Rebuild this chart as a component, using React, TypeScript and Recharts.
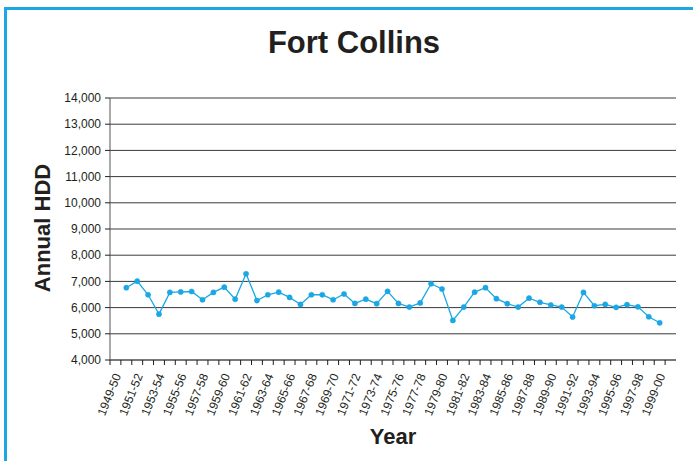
import { CartesianGrid, Line, LineChart, XAxis, YAxis } from "recharts";

const seasons = [
  "1949-50", "1950-51", "1951-52", "1952-53", "1953-54", "1954-55", "1955-56",
  "1956-57", "1957-58", "1958-59", "1959-60", "1960-61", "1961-62", "1962-63",
  "1963-64", "1964-65", "1965-66", "1966-67", "1967-68", "1968-69", "1969-70",
  "1970-71", "1971-72", "1972-73", "1973-74", "1974-75", "1975-76", "1976-77",
  "1977-78", "1978-79", "1979-80", "1980-81", "1981-82", "1982-83", "1983-84",
  "1984-85", "1985-86", "1986-87", "1987-88", "1988-89", "1989-90", "1990-91",
  "1991-92", "1992-93", "1993-94", "1994-95", "1995-96", "1996-97", "1997-98",
  "1998-99", "1999-00", "2000-01",
];

const annualHdd: (number | null)[] = [
  null,
  6760, 7010, 6490, 5750, 6580, 6600, 6615, 6300, 6580, 6780,
  6320, 7290, 6270, 6490, 6590, 6390, 6120, 6490, 6490, 6300,
  6520, 6160, 6320, 6150, 6620, 6160, 6020, 6180, 6910, 6710,
  5510, 6020, 6590, 6760, 6340, 6150, 6020, 6360, 6200, 6100,
  6020, 5640, 6580, 6070, 6120, 6010, 6110, 6030, 5650, 5420,
  null,
];

const yTicks = [4000, 5000, 6000, 7000, 8000, 9000, 10000, 11000, 12000, 13000, 14000];

const data = seasons.map((s, i) => ({ season: s, hdd: annualHdd[i] }));

const W = 693;
const H = 461;
const PLOT_LEFT = 110;
const PLOT_RIGHT = 676;
const PLOT_TOP = 98;
const PLOT_BOTTOM = 360;
const BAND = (PLOT_RIGHT - PLOT_LEFT) / seasons.length;
const FONT = "'Liberation Sans', Arial, sans-serif";
const INK = "#231F20";
const BLUE = "#1AA7E4";

function SeasonTick(props: any) {
  const { x, y, payload, index } = props;
  const left = x - BAND / 2;
  return (
    <g>
      <line x1={left} x2={left} y1={PLOT_BOTTOM} y2={PLOT_BOTTOM + 5} stroke={INK} />
      {index % 2 === 0 && (
        <text
          x={0}
          y={0}
          transform={`translate(${x + 2},${y + 12}) rotate(-68)`}
          textAnchor="end"
          dy="0.35em"
          fontSize={12}
          fontFamily={FONT}
          fill={INK}
        >
          {payload.value}
        </text>
      )}
    </g>
  );
}

export default function App() {
  return (
    <div
      style={{
        position: "absolute",
        left: 0,
        top: 0,
        width: W,
        height: H,
        background: "#fff",
        fontFamily: FONT,
        overflow: "hidden",
      }}
    >
      <div
        style={{
          position: "absolute",
          left: 4,
          top: 7,
          width: W,
          height: H,
          borderTop: `3px solid ${BLUE}`,
          borderLeft: `3px solid ${BLUE}`,
        }}
      />
      <div
        style={{
          position: "absolute",
          left: 0,
          width: 708,
          top: 25,
          textAlign: "center",
          fontSize: 31,
          fontWeight: 700,
          color: INK,
        }}
      >
        Fort Collins
      </div>
      <div
        style={{
          position: "absolute",
          left: PLOT_LEFT,
          width: PLOT_RIGHT - PLOT_LEFT,
          top: 424,
          textAlign: "center",
          fontSize: 22,
          fontWeight: 700,
          color: INK,
        }}
      >
        Year
      </div>
      <div
        style={{
          position: "absolute",
          left: 43,
          top: 228,
          transform: "translate(-50%, -50%) rotate(-90deg)",
          whiteSpace: "nowrap",
          fontSize: 22,
          fontWeight: 700,
          color: INK,
        }}
      >
        Annual HDD
      </div>
      <div style={{ position: "absolute", left: 0, top: 0 }}>
        <LineChart
          width={W}
          height={H}
          data={data}
          margin={{ top: PLOT_TOP, right: W - PLOT_RIGHT, bottom: 0, left: PLOT_LEFT - 60 }}
        >
          <CartesianGrid vertical={false} stroke="#3a3a3a" />
          <XAxis
            dataKey="season"
            interval={0}
            height={H - PLOT_BOTTOM}
            padding={{ left: BAND / 2, right: BAND / 2 }}
            tickLine={false}
            tickSize={0}
            tick={<SeasonTick />}
            axisLine={{ stroke: "#555" }}
          />
          <YAxis
            width={60}
            domain={[4000, 14000]}
            ticks={yTicks}
            interval={0}
            tickSize={5}
            tickMargin={4}
            tickLine={{ stroke: INK }}
            axisLine={{ stroke: "#555" }}
            tick={{ fontSize: 12, fontFamily: FONT, fill: INK }}
            tickFormatter={(v: number) => v.toLocaleString("en-US")}
          />
          <YAxis
            yAxisId="frame"
            orientation="right"
            width={0}
            tick={false}
            tickLine={false}
            axisLine={{ stroke: "#8a8a8a", strokeWidth: 2 }}
          />
          <Line
            type="linear"
            dataKey="hdd"
            stroke={BLUE}
            strokeWidth={1.3}
            dot={{ r: 2.6, fill: BLUE, stroke: BLUE, strokeWidth: 0.5 }}
            isAnimationActive={false}
            connectNulls={false}
          />
        </LineChart>
      </div>
    </div>
  );
}
